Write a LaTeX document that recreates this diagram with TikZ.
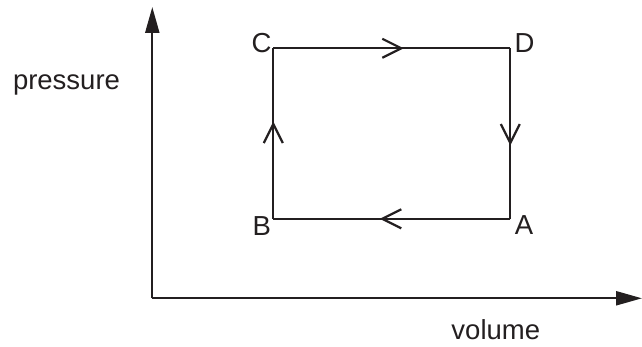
\documentclass[tikz,border=0pt]{standalone}
\usepackage{fontspec}
\setmainfont{Liberation Sans}
\usetikzlibrary{arrows.meta,decorations.markings}
\definecolor{ink}{HTML}{231F20}
\tikzset{
  axis/.style={draw=ink, line width=2.3pt, -{Triangle[length=26pt,width=14pt]}},
  cycleline/.style={draw=ink, line width=2.2pt, line join=miter,
    postaction={decorate, decoration={markings, mark=at position 0.5 with {
      \draw[ink, line width=2.2pt, line cap=butt, line join=miter] (-9.5pt,9.5pt) -- (9.5pt,0pt) -- (-9.5pt,-9.5pt);}}}},
  lbl/.style={text=ink, inner sep=0pt, font=\fontsize{27.5}{32}\selectfont},
}
\begin{document}
\begin{tikzpicture}[x=1pt,y=-1pt]
  \useasboundingbox (0,0) rectangle (642,347);
  % axes
  \coordinate (O) at (152.3,298.3);
  \coordinate (Ytop) at (152.3,7);
  \coordinate (Xend) at (642,298.3);
  \draw[axis] (O) -- (Ytop);
  \draw[axis] (O) -- (Xend);
  % cycle corners
  \coordinate (A) at (510.3,218.8);
  \coordinate (B) at (273.3,218.8);
  \coordinate (C) at (273.3,48.3);
  \coordinate (D) at (510.3,48.3);
  \draw[cycleline] (B) -- (C);
  \draw[cycleline] (C) -- (D);
  \draw[cycleline] (D) -- (A);
  \draw[cycleline] (A) -- (B);
  % labels
  \node[lbl] (lC) at (261.5,43) {C};
  \node[lbl] (lD) at (524.5,42.8) {D};
  \node[lbl] (lA) at (524,225) {A};
  \node[lbl] (lB) at (261.7,225.8) {B};
  \node[lbl, anchor=base] (lp) at (66.5,89.3) {pressure};
  \node[lbl, anchor=base] (lv) at (495.8,339.3) {volume};
\end{tikzpicture}
\end{document}
